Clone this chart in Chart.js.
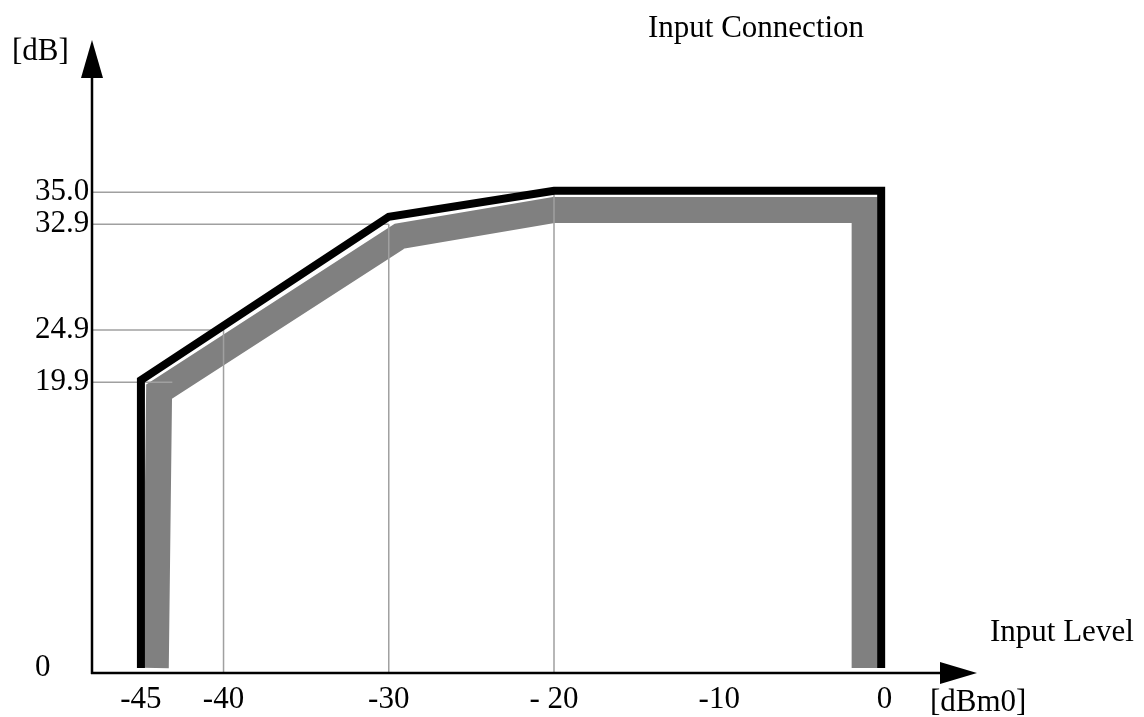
<!DOCTYPE html>
<html>
<head>
<meta charset="utf-8">
<title>Input Connection</title>
<script src="https://cdn.jsdelivr.net/npm/chart.js@4/dist/chart.umd.min.js"></script>
<style>
    body { margin: 0; background: #fff; }
    #wrap { width: 1144px; height: 717px; }
</style>
</head>
<body>
<div id="wrap"><canvas id="levelChart" width="1144" height="717"></canvas></div>
<script>
// tick values and labels
const xTicks = [-45, -40, -30, -20, -10, 0];
const xTickLabels = ['-45', '-40', '-30', '- 20', '-10', '0'];
const yTicks = [0, 19.9, 24.9, 32.9, 35.0];
const yTickLabels = ['0', '19.9', '24.9', '32.9', '35.0'];

// upper (black) limit
const upperX = [-45, -45, -30, -20, -0.2, -0.2];
const upperY = [0, 20.1, 33.4, 35.1, 35.1, 0];

// lower (grey) limit
const lowerX = [-44.1, -43.9, -29.35, -20, -1.2, -1.2];
const lowerY = [0, 19.25, 32.0, 33.85, 33.85, 0];

// thin guide lines: level and where they stop on the x axis
const guideLevels = [35.0, 32.9, 24.9, 19.9];
const guideEndX = [-20, -30, -40, -43.1];

const xMin = -47.9, xMax = 5.6;
const yMin = -0.35, yMax = 45;

// the y axis of the drawing is not to scale: piecewise stretch (height in px above 0)
const warpValues = [0, 19.9, 24.9, 32.9, 35.0];
const warpHeights = [0, 285.7, 338, 443.7, 475.7];

function warp(v) {
    let i = 0;
    while (i < warpValues.length - 2 && v > warpValues[i + 1]) i++;
    const v0 = warpValues[i], v1 = warpValues[i + 1];
    const h0 = warpHeights[i], h1 = warpHeights[i + 1];
    return h0 + (v - v0) * (h1 - h0) / (v1 - v0);
}
function unwarp(h) {
    let i = 0;
    while (i < warpHeights.length - 2 && h > warpHeights[i + 1]) i++;
    const v0 = warpValues[i], v1 = warpValues[i + 1];
    const h0 = warpHeights[i], h1 = warpHeights[i + 1];
    return v0 + (h - h0) * (v1 - v0) / (h1 - h0);
}

class WarpScale extends Chart.LinearScale {
    static id = 'warp';
    static defaults = Chart.LinearScale.defaults;
    getPixelForValue(value) {
        if (value === null || isNaN(value)) return NaN;
        const a = warp(this.min), b = warp(this.max);
        return this.getPixelForDecimal((warp(value) - a) / (b - a));
    }
    getValueForPixel(pixel) {
        const a = warp(this.min), b = warp(this.max);
        return unwarp(a + this.getDecimalForPixel(pixel) * (b - a));
    }
}
Chart.register(WarpScale);

const toPoints = (xs, ys) => xs.map((x, i) => ({ x: x, y: ys[i] }));

const guideSets = [];
guideLevels.forEach((lvl, i) => {
    guideSets.push({ data: [{ x: xMin, y: lvl }, { x: guideEndX[i], y: lvl }] });
    if (i < 3) {
        guideSets.push({ data: [{ x: guideEndX[i], y: lvl }, { x: guideEndX[i], y: yMin }] });
    }
});

const lineBase = {
    fill: false,
    tension: 0,
    pointRadius: 0,
    borderCapStyle: 'butt',
    borderJoinStyle: 'miter'
};

const datasets = [
    Object.assign({}, lineBase, {
        label: 'upper',
        data: toPoints(upperX, upperY),
        borderColor: '#000000',
        borderWidth: 8,
        order: 0
    }),
    Object.assign({}, lineBase, {
        label: 'lower',
        data: toPoints(lowerX, lowerY),
        borderColor: '#808080',
        borderWidth: 26,
        order: 2
    })
];
guideSets.forEach(g => {
    datasets.push(Object.assign({}, lineBase, {
        label: 'guide',
        data: g.data,
        borderColor: '#a0a0a0',
        borderWidth: 1.5,
        order: 1
    }));
});

const serif = "'Liberation Serif', 'Times New Roman', serif";

// axes with arrow heads and the loose texts
const axesPlugin = {
    id: 'axesPlugin',
    afterDraw(chart) {
        const ctx = chart.ctx;
        const area = chart.chartArea;
        const ax = area.left - 1;
        const ay = area.bottom;
        ctx.save();
        ctx.strokeStyle = '#000';
        ctx.fillStyle = '#000';
        ctx.lineWidth = 2.5;
        ctx.beginPath();
        ctx.moveTo(ax, ay + 1);
        ctx.lineTo(ax, area.top + 36);
        ctx.moveTo(ax - 1, ay);
        ctx.lineTo(area.right - 36, ay);
        ctx.stroke();
        // y arrow
        ctx.beginPath();
        ctx.moveTo(ax, area.top);
        ctx.lineTo(ax - 11, area.top + 38);
        ctx.lineTo(ax + 11, area.top + 38);
        ctx.closePath();
        ctx.fill();
        // x arrow
        ctx.beginPath();
        ctx.moveTo(area.right, ay);
        ctx.lineTo(area.right - 37, ay - 11);
        ctx.lineTo(area.right - 37, ay + 11);
        ctx.closePath();
        ctx.fill();

        ctx.font = '31px ' + serif;
        ctx.textAlign = 'left';
        ctx.textBaseline = 'alphabetic';
        ctx.fillText('[dB]', 12, 60);
        ctx.fillText('Input Connection', 648, 37);
        ctx.fillText('Input Level', 990, 641);
        ctx.fillText('[dBm0]', 930, 711);
        ctx.restore();
    }
};

const config = {
    type: 'line',
    data: { datasets: datasets },
    options: {
        responsive: false,
        animation: false,
        events: [],
        layout: {
            padding: { left: 35, top: 40, right: 167, bottom: 0 }
        },
        plugins: {
            legend: { display: false },
            tooltip: { enabled: false }
        },
        scales: {
            x: {
                type: 'linear',
                min: xMin,
                max: xMax,
                grid: { display: false, drawTicks: false },
                border: { display: false },
                afterBuildTicks: scale => {
                    scale.ticks = xTicks.map(v => ({ value: v }));
                },
                afterFit: scale => { scale.height = 44; },
                ticks: {
                    autoSkip: false,
                    maxRotation: 0,
                    padding: 8,
                    color: '#000',
                    font: { family: serif, size: 31 },
                    callback: (value, index) => xTickLabels[index]
                }
            },
            y: {
                type: 'warp',
                min: yMin,
                max: yMax,
                grid: { display: false, drawTicks: false },
                border: { display: false },
                afterBuildTicks: scale => {
                    scale.ticks = yTicks.map(v => ({ value: v }));
                },
                afterFit: scale => { scale.width = 58; },
                ticks: {
                    autoSkip: false,
                    crossAlign: 'far',
                    padding: 0,
                    color: '#000',
                    font: { family: serif, size: 31 },
                    callback: (value, index) => yTickLabels[index]
                }
            }
        }
    },
    plugins: [axesPlugin]
};

const ctx = document.getElementById('levelChart').getContext('2d');
new Chart(ctx, config);
</script>
</body>
</html>
